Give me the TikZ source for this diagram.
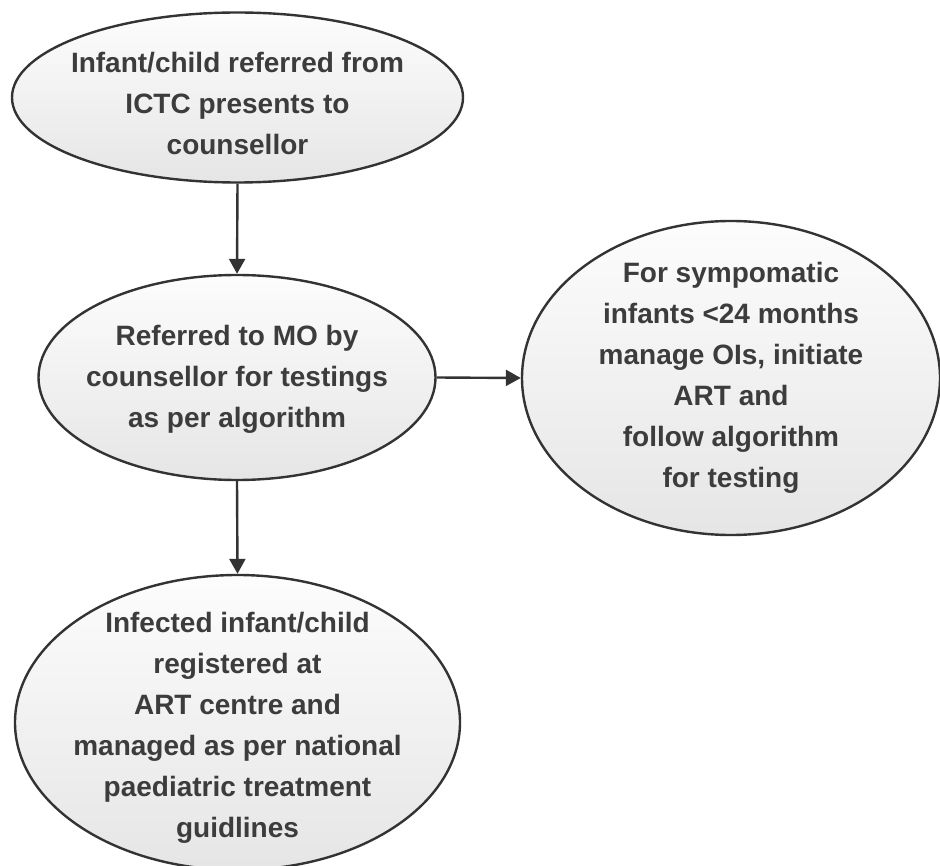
\documentclass[tikz,border=0pt]{standalone}
\usepackage{fontspec}
\setmainfont{Liberation Sans}
\usetikzlibrary{shapes.geometric,arrows.meta}
\definecolor{edge}{HTML}{333333}
\definecolor{ink}{HTML}{3C3C3C}
\tikzset{
  bubble/.style={ellipse, draw=edge, line width=2.4pt, inner sep=0pt,
    top color=gray!2, bottom color=gray!20},
  txt/.style={align=center, text=ink, inner sep=0pt,
    font=\fontsize{28}{41}\selectfont\bfseries},
  conn/.style={draw=edge, line width=2.4pt,
    -{Triangle[length=15pt,width=16pt]}}
}
\begin{document}
\begin{tikzpicture}[x=1pt,y=-1pt]
\useasboundingbox (0,0) rectangle (940,866);
\node[bubble, minimum width=451pt, minimum height=170pt] (a) at (237.5,97.5) {};
\node[txt] (ta) at (237.5,103) {Infant/child referred from\\ICTC presents to\\counsellor};
\node[bubble, minimum width=397pt, minimum height=205pt] (b) at (237,377.5) {};
\node[txt] (tb) at (237,379) {Referred to MO by\\counsellor for testings\\as per algorithm};
\node[bubble, minimum width=418pt, minimum height=314pt] (c) at (731,378) {};
\node[txt] (tc) at (731,378) {For sympomatic\\infants <24 months\\manage OIs, initiate\\ART and\\follow algorithm\\for testing};
\node[bubble, minimum width=445pt, minimum height=295pt] (d) at (237.5,722.5) {};
\node[txt] (td) at (237.5,728) {Infected infant/child\\registered at\\ART centre and\\managed as per national\\paediatric treatment\\guidlines};
\draw[conn] (a.south) -- (b.north);
\draw[conn] (b.east) -- (c.west);
\draw[conn] (b.south) -- (d.north);
\end{tikzpicture}
\end{document}
